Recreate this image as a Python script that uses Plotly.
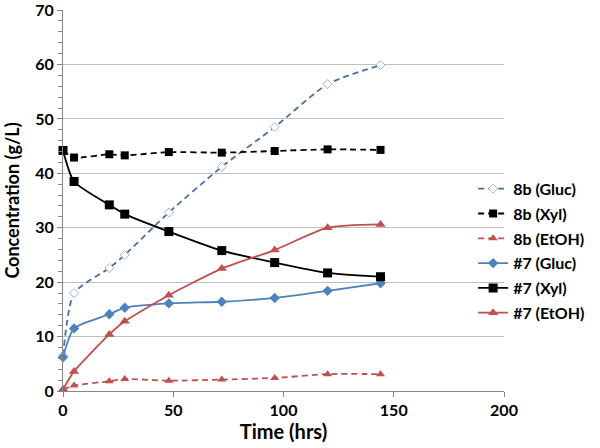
import plotly.graph_objects as go

# sampling times (hrs)
time_hrs = [0, 5, 21, 28, 48, 72, 96, 120, 144]

# concentrations (g/L)
gluc_8b = [6.5, 18.0, 22.6, 25.0, 32.8, 41.2, 48.5, 56.4, 59.9]
xyl_8b = [44.2, 42.9, 43.5, 43.3, 43.9, 43.8, 44.1, 44.4, 44.3]
etoh_8b = [0.3, 1.0, 1.8, 2.2, 1.9, 2.1, 2.4, 3.1, 3.1]
gluc_7 = [6.2, 11.5, 14.1, 15.3, 16.1, 16.4, 17.1, 18.4, 19.8]
xyl_7 = [44.2, 38.5, 34.2, 32.5, 29.3, 25.8, 23.6, 21.7, 21.0]
etoh_7 = [0.3, 3.6, 10.4, 12.8, 17.6, 22.5, 25.9, 30.0, 30.6]

FONT = "Lato"
BLUE_DASH = "#4A6FA5"
BLUE = "#4F81BD"
RED = "#C0504D"
BLACK = "#000000"
DASH = "6px,4px"

series = [
    ("8b (Gluc)", gluc_8b, BLUE_DASH, DASH,
     dict(symbol="diamond", size=7, color="white", line=dict(color="#9DB3D6", width=1))),
    ("8b (Xyl)", xyl_8b, BLACK, DASH,
     dict(symbol="square", size=8, color=BLACK)),
    ("8b (EtOH)", etoh_8b, RED, DASH,
     dict(symbol="triangle-up", size=8, color=RED)),
    ("#7 (Gluc)", gluc_7, BLUE, "solid",
     dict(symbol="diamond", size=8, color=BLUE)),
    ("#7 (Xyl)", xyl_7, BLACK, "solid",
     dict(symbol="square", size=9, color=BLACK)),
    ("#7 (EtOH)", etoh_7, RED, "solid",
     dict(symbol="triangle-up", size=9, color=RED)),
]

fig = go.Figure()
for i, (name, vals, color, dash, marker) in enumerate(series):
    fig.add_trace(go.Scatter(
        x=time_hrs, y=vals, name=name, mode="lines+markers",
        line=dict(color=color, width=1.8, dash=dash, shape="spline", smoothing=0.6),
        marker=marker, cliponaxis=False, legendgroup=str(i),
    ))

fig.update_layout(
    width=600, height=448,
    margin=dict(l=63, r=94, t=10, b=57),
    paper_bgcolor="white", plot_bgcolor="white",
    font=dict(family=FONT, size=16, color="black", weight=700),
    legend=dict(x=0.93, xanchor="left", y=0.368, yanchor="middle",
                font=dict(size=16, weight=700), tracegroupgap=1,
                itemwidth=30, bgcolor="rgba(0,0,0,0)"),
    xaxis=dict(range=[0, 200], dtick=50, showgrid=False, zeroline=False,
               showline=True, linecolor="#868686", linewidth=1,
               ticks="outside", ticklen=5, tickcolor="#868686", automargin=False,
               ticklabeloverflow="allow",
               title=dict(text="Time (hrs)", font=dict(size=20, weight=700), standoff=6)),
    yaxis=dict(range=[0, 70.01], tickvals=[0, 10, 20, 30, 40, 50, 60, 70],
               showgrid=True, gridcolor="#BEBEBE",
               zeroline=False, showline=True, linecolor="#868686", linewidth=1,
               ticks="outside", ticklen=5, tickcolor="#868686", automargin=False,
               ticklabeloverflow="allow",
               minor=dict(dtick=2, ticks="outside", ticklen=4, tickcolor="#868686", showgrid=False),
               title=dict(text="Concentration (g/L)", font=dict(size=18, weight=700), standoff=10)),
)

fig.write_html("out.html", config={"displayModeBar": False},
               post_script="document.body.style.margin='0';")
